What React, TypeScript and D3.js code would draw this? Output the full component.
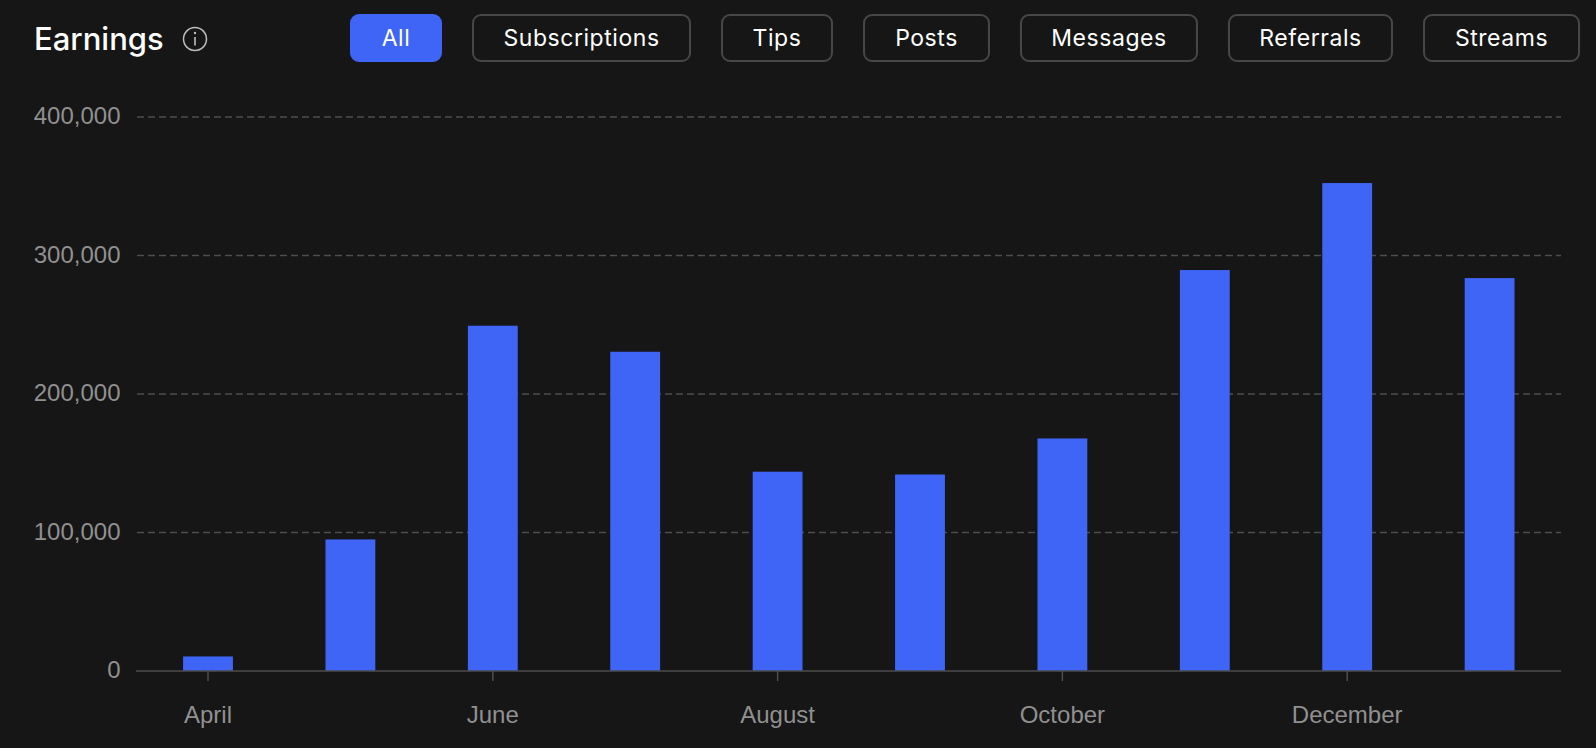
import React, { useEffect, useRef } from "react";
import * as d3 from "d3";

const months = ["April", "May", "June", "July", "August", "September", "October", "November", "December", "January"];
const earnings = [10500, 95000, 249300, 230500, 143900, 141900, 167900, 289500, 352300, 283700];
const yTicks = [0, 100000, 200000, 300000, 400000];
const shownMonths = ["April", "June", "August", "October", "December"];
const filters = ["All", "Subscriptions", "Tips", "Posts", "Messages", "Referrals", "Streams"];
const filterEdges = [[351, 441], [473, 690], [722, 832], [864, 989], [1021, 1197], [1229, 1392], [1424, 1579]];

const FONT = "Inter, 'Noto Sans', sans-serif";
const AXIS_FONT = "'Liberation Sans', Arial, sans-serif";

export default function App() {
  const ref = useRef<SVGSVGElement | null>(null);
  useEffect(() => {
    const svg = d3.select(ref.current);
    svg.selectAll("*").remove();
    const x = d3.scaleBand().domain(months).range([136.8, 1560.8]).paddingInner(0.65).paddingOuter(0.325);
    const y = d3.scaleLinear().domain([0, 400000]).range([671, 117]);

    const gy = svg.append("g");
    yTicks.filter((t) => t > 0).forEach((t) => {
      gy.append("line").attr("x1", 137).attr("x2", 1561).attr("y1", y(t)).attr("y2", y(t))
        .attr("stroke", "#4d4d4d").attr("stroke-width", 1.5).attr("stroke-dasharray", "7 4");
    });
    yTicks.forEach((t) => {
      gy.append("text").attr("x", 120.5).attr("y", y(t) - 1).attr("dy", "0.35em").attr("text-anchor", "end")
        .attr("fill", "#909090").attr("font-family", AXIS_FONT).attr("font-size", 24)
        .text(d3.format(",")(t));
    });

    svg.append("g").selectAll("rect").data(earnings).join("rect")
      .attr("x", (_, i) => x(months[i])!)
      .attr("width", x.bandwidth())
      .attr("y", (d) => y(d))
      .attr("height", (d) => y(0) - y(d))
      .attr("fill", "#3f65f6");

    svg.append("line").attr("x1", 136).attr("x2", 1561).attr("y1", 671).attr("y2", 671)
      .attr("stroke", "#4d4d4d").attr("stroke-width", 1.5);
    shownMonths.forEach((m) => {
      const cx = x(m)! + x.bandwidth() / 2;
      svg.append("line").attr("x1", cx).attr("x2", cx).attr("y1", 671).attr("y2", 681)
        .attr("stroke", "#4d4d4d").attr("stroke-width", 1.5);
      svg.append("text").attr("x", cx).attr("y", 723).attr("text-anchor", "middle")
        .attr("fill", "#909090").attr("font-family", AXIS_FONT).attr("font-size", 24).text(m);
    });

    svg.append("text").attr("x", 34).attr("y", 50).attr("fill", "#fff")
      .attr("font-family", FONT).attr("font-size", 31).attr("font-weight", 500).text("Earnings");
    const info = svg.append("g").attr("transform", "translate(195,39)");
    info.append("circle").attr("r", 11.5).attr("fill", "none").attr("stroke", "#bdbdbd").attr("stroke-width", 1.5);
    info.append("line").attr("y1", -2).attr("y2", 6.5).attr("stroke", "#bdbdbd").attr("stroke-width", 1.6);
    info.append("circle").attr("cy", -6).attr("r", 1.2).attr("fill", "#bdbdbd");

    filters.forEach((f, i) => {
      const [a, b] = filterEdges[i];
      const active = i === 0;
      svg.append("rect").attr("x", a).attr("y", 15).attr("width", b - a).attr("height", 46).attr("rx", 8)
        .attr("fill", active ? "#3f65f6" : "#161616")
        .attr("stroke", active ? "#3f65f6" : "#474747").attr("stroke-width", 2);
      svg.append("text").attr("x", (a + b) / 2).attr("y", 37.5).attr("dy", "0.35em").attr("text-anchor", "middle")
        .attr("fill", "#fff").attr("font-family", FONT).attr("font-size", 23).attr("letter-spacing", 0.55).text(f);
    });
  }, []);
  return (
    <svg ref={ref} width={1596} height={748}
      style={{ position: "absolute", left: 0, top: 0, background: "#161616", display: "block" }} />
  );
}
